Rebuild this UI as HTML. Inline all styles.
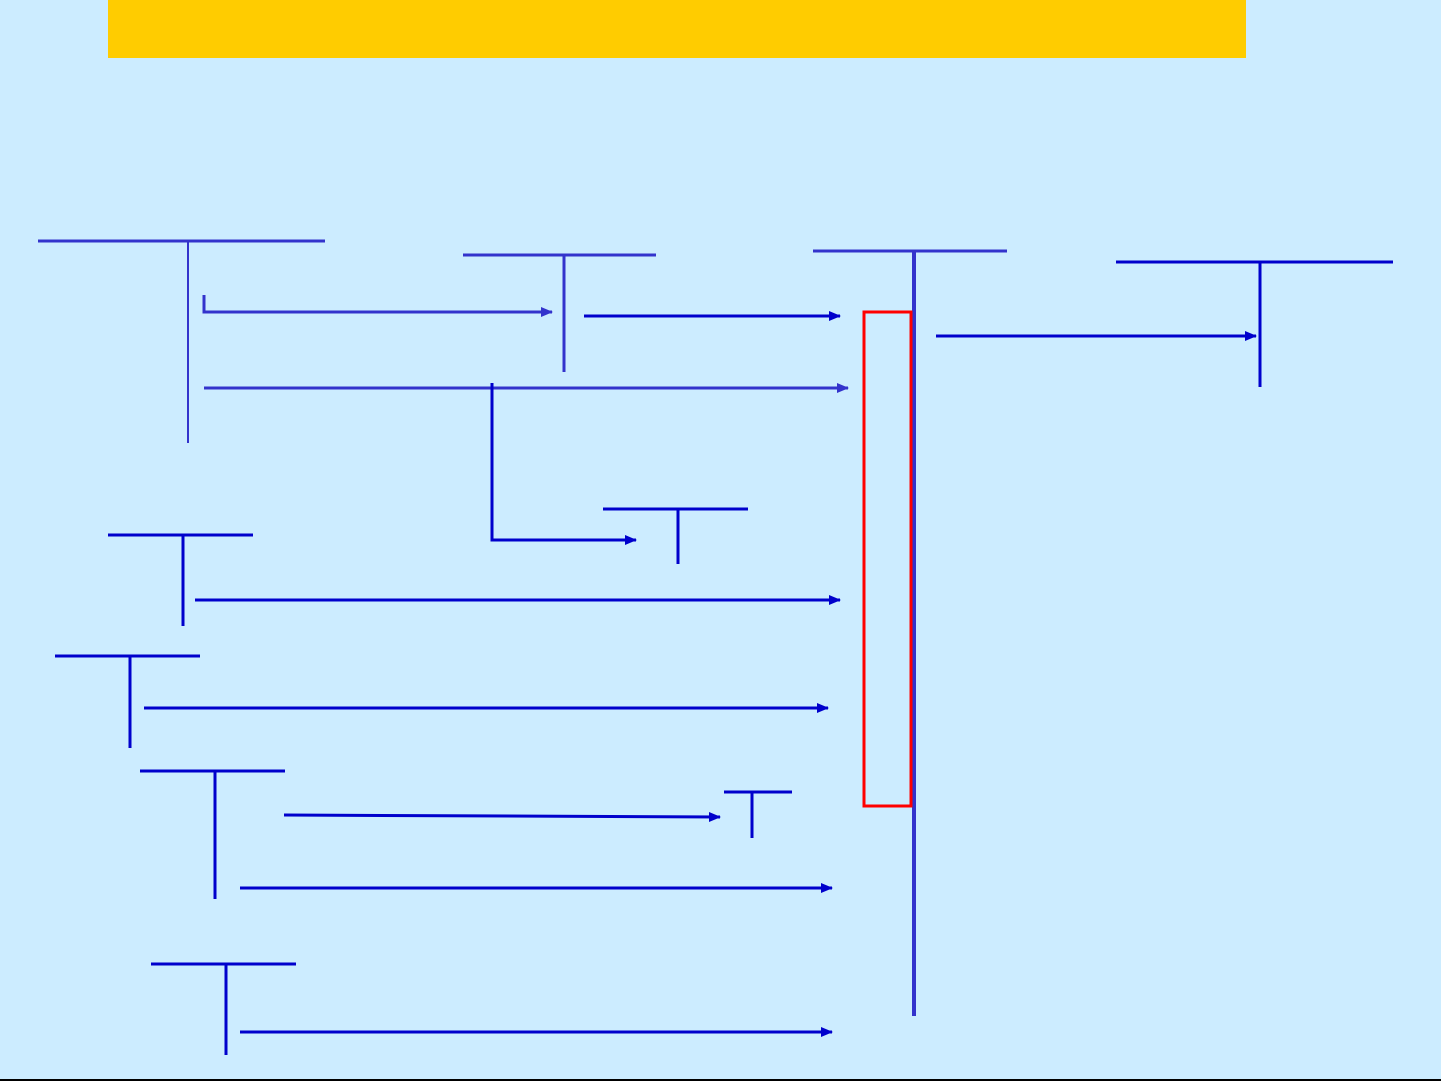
<!DOCTYPE html>
<html><head><meta charset="utf-8"><style>html,body{margin:0;padding:0;background:#CCECFF;}svg{display:block}</style></head>
<body>
<svg width="1441" height="1081" viewBox="0 0 1441 1081" xmlns="http://www.w3.org/2000/svg">
<defs>
<marker id="a1" markerWidth="12" markerHeight="12" refX="11" refY="6" orient="auto" markerUnits="userSpaceOnUse"><path d="M0,1 L12,6 L0,11 z" fill="#3333CC"/></marker>
<marker id="a2" markerWidth="12" markerHeight="12" refX="11" refY="6" orient="auto" markerUnits="userSpaceOnUse"><path d="M0,1 L12,6 L0,11 z" fill="#0000CC"/></marker>
</defs>
<rect width="1441" height="1081" fill="#CCECFF"/>
<rect x="108" y="0" width="1138" height="58" fill="#FFCC00"/>
<g stroke="#3333CC" stroke-width="3" fill="none">
<line x1="38" y1="241" x2="325" y2="241"/>
<line x1="188" y1="241" x2="188" y2="443" stroke-width="2"/>
<polyline points="204,295 204,312 552,312" marker-end="url(#a1)"/>
<line x1="463" y1="255" x2="656" y2="255"/>
<line x1="564" y1="255" x2="564" y2="372"/>
<line x1="204" y1="388" x2="848" y2="388" marker-end="url(#a1)"/>
<line x1="813" y1="251" x2="1007" y2="251"/>
<line x1="914" y1="251" x2="914" y2="1016" stroke-width="4"/>
</g>
<g stroke="#0000CC" stroke-width="3" fill="none">
<line x1="584" y1="316" x2="840" y2="316" marker-end="url(#a2)"/>
<polyline points="492,383 492,540 636,540" marker-end="url(#a2)"/>
<line x1="603" y1="509" x2="748" y2="509"/>
<line x1="678" y1="509" x2="678" y2="564"/>
<line x1="936" y1="336" x2="1256" y2="336" marker-end="url(#a2)"/>
<line x1="1116" y1="262" x2="1393" y2="262"/>
<line x1="1260" y1="262" x2="1260" y2="387"/>
<line x1="108" y1="535" x2="253" y2="535"/>
<line x1="183" y1="535" x2="183" y2="626"/>
<line x1="195" y1="600" x2="840" y2="600" marker-end="url(#a2)"/>
<line x1="55" y1="656" x2="200" y2="656"/>
<line x1="130" y1="656" x2="130" y2="748"/>
<line x1="144" y1="708" x2="828" y2="708" marker-end="url(#a2)"/>
<line x1="140" y1="771" x2="285" y2="771"/>
<line x1="215" y1="771" x2="215" y2="899"/>
<line x1="284" y1="815" x2="720" y2="817" marker-end="url(#a2)"/>
<line x1="724" y1="792" x2="792" y2="792"/>
<line x1="752" y1="792" x2="752" y2="838"/>
<line x1="240" y1="888" x2="832" y2="888" marker-end="url(#a2)"/>
<line x1="151" y1="964" x2="296" y2="964"/>
<line x1="226" y1="964" x2="226" y2="1055"/>
<line x1="240" y1="1032" x2="832" y2="1032" marker-end="url(#a2)"/>
</g>
<rect x="864" y="312" width="47" height="494" fill="none" stroke="#FF0000" stroke-width="3"/>
<rect x="0" y="1079" width="1441" height="2" fill="#000"/>
</svg>
</body></html>
